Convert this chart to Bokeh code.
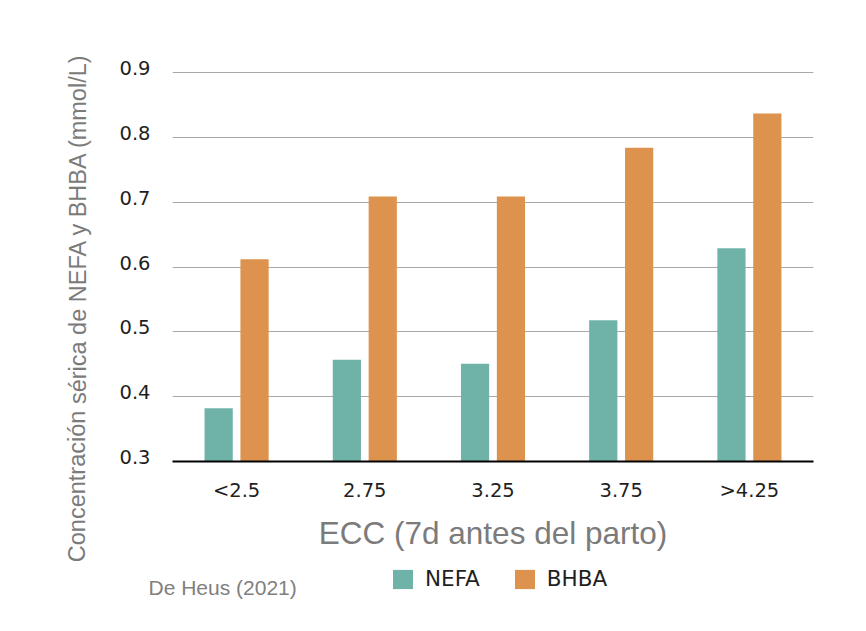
from bokeh.plotting import figure
from bokeh.layouts import row, column
from bokeh.models import (ColumnDataSource, FactorRange, Range1d, LinearAxis,
                          FixedTicker, Grid, Legend, LegendItem)
from bokeh.core.properties import value
from bokeh.transform import dodge
from bokeh.embed import file_html
from bokeh.resources import INLINE

# Serum NEFA and BHBA by body condition score, 7 days before calving
categories = ["<2.5", "2.75", "3.25", "3.75", ">4.25"]
nefa = [0.382, 0.457, 0.451, 0.518, 0.629]
bhba = [0.612, 0.709, 0.709, 0.784, 0.837]
y_ticks = [0.3, 0.4, 0.5, 0.6, 0.7, 0.8, 0.9]
series_names = ["NEFA", "BHBA"]

Y_START = 0.3
Y_END = 0.9188
LABEL_SHIFT = 0.007  # lifts the tick labels slightly above their gridlines

TEAL = "#6FB3A8"
ORANGE = "#DD924D"
TICK_COLOR = "#1f1f1f"
TITLE_COLOR = "#7b7b7b"
SANS = value("Liberation Sans")


def blank(width, height, x0, x1, y0, y1):
    """A bare figure whose data space is page pixels (y grows downward)."""
    f = figure(width=width, height=height, x_range=Range1d(x0, x1),
               y_range=Range1d(y1, y0), x_axis_location=None, y_axis_location=None,
               output_backend="svg", toolbar_location=None,
               min_border=0, min_border_left=0, min_border_right=0,
               min_border_top=0, min_border_bottom=0)
    f.outline_line_color = None
    f.grid.visible = False
    f.background_fill_color = "white"
    f.border_fill_color = "white"
    return f


TOP_H = 562  # height of the chart row; the legend strip sits below it

# ---- main chart -----------------------------------------------------------
source = ColumnDataSource(dict(cat=categories, nefa=nefa, bhba=bhba))

p = figure(width=766, height=TOP_H, x_range=FactorRange(*categories, range_padding=0),
           y_range=Range1d(Y_START, Y_END), y_axis_location=None,
           output_backend="svg", toolbar_location=None,
           min_border_left=72, min_border_right=53,
           min_border_top=60, min_border_bottom=TOP_H - 461)
p.outline_line_color = None
p.background_fill_color = "white"
p.border_fill_color = "white"

p.vbar(x=dodge("cat", -0.14, range=p.x_range), top="nefa", bottom=Y_START,
       width=0.22, source=source, fill_color=TEAL, line_color=None)
p.vbar(x=dodge("cat", 0.14, range=p.x_range), top="bhba", bottom=Y_START,
       width=0.22, source=source, fill_color=ORANGE, line_color=None)

# horizontal gridlines
p.xgrid.grid_line_color = None
p.add_layout(Grid(dimension=1, ticker=FixedTicker(ticks=y_ticks),
                  grid_line_color="#a8a8a8", grid_line_width=1))

# y axis (labels only)
p.extra_y_ranges = {"ticks": Range1d(Y_START - LABEL_SHIFT, Y_END - LABEL_SHIFT)}
yaxis = LinearAxis(y_range_name="ticks", ticker=FixedTicker(ticks=y_ticks))
yaxis.axis_line_color = None
yaxis.major_tick_line_color = None
yaxis.minor_tick_line_color = None
yaxis.major_tick_out = 0
yaxis.major_label_standoff = 22
yaxis.major_label_text_font = "DejaVu Sans"
yaxis.major_label_text_font_size = "19.5px"
yaxis.major_label_text_color = TICK_COLOR
p.add_layout(yaxis, "left")

# x axis with black baseline and its title
xa = p.xaxis[0]
xa.axis_line_color = "black"
xa.axis_line_width = 2
xa.major_tick_line_color = None
xa.minor_tick_line_color = None
xa.major_tick_out = 0
xa.major_label_standoff = 17
xa.major_label_text_font = "DejaVu Sans"
xa.major_label_text_font_size = "19.5px"
xa.major_label_text_color = TICK_COLOR
xa.axis_label = "ECC (7d antes del parto)"
xa.axis_label_standoff = 10
xa.axis_label_text_font = "Liberation Sans"
xa.axis_label_text_font_size = "31.5px"
xa.axis_label_text_font_style = "normal"
xa.axis_label_text_color = TITLE_COLOR

# ---- y-axis title strip ---------------------------------------------------
left = blank(100, TOP_H, 0, 100, 0, TOP_H)
left.text(x=[77], y=[307], text=["Concentración sérica de NEFA y BHBA (mmol/L)"],
          angle=1.5707963, text_align="center", text_baseline="middle",
          text_font=SANS, text_font_size="23.5px", text_color=TITLE_COLOR)

# ---- source note and legend -----------------------------------------------
bottom = blank(866, 631 - TOP_H, 0, 866, TOP_H, 631)
bottom.text(x=[148], y=[587], text=["De Heus (2021)"],
            text_align="left", text_baseline="alphabetic",
            text_font=SANS, text_font_size="21px", text_color="#808080")

# legend keys share the bar styling (zero-height, so nothing shows in the strip)
key_nefa = bottom.vbar(x=[0], top=[0], bottom=[0], width=0,
                       fill_color=TEAL, line_color=None)
key_bhba = bottom.vbar(x=[0], top=[0], bottom=[0], width=0,
                       fill_color=ORANGE, line_color=None)
legend = Legend(items=[LegendItem(label=series_names[0], renderers=[key_nefa]),
                       LegendItem(label=series_names[1], renderers=[key_bhba])],
                location=(390, 40), orientation="horizontal",
                glyph_width=25, glyph_height=24, label_standoff=10, spacing=32,
                padding=0, margin=0, border_line_color=None,
                background_fill_alpha=0,
                label_text_font="DejaVu Sans", label_text_font_size="21.5px",
                label_text_color=TICK_COLOR)
bottom.add_layout(legend, "center")

# wrapping each figure in its own column keeps their frames independent
layout = column(row(column(left), column(p), spacing=0), bottom, spacing=0)

open("out.html", "w").write(file_html(layout, INLINE))
